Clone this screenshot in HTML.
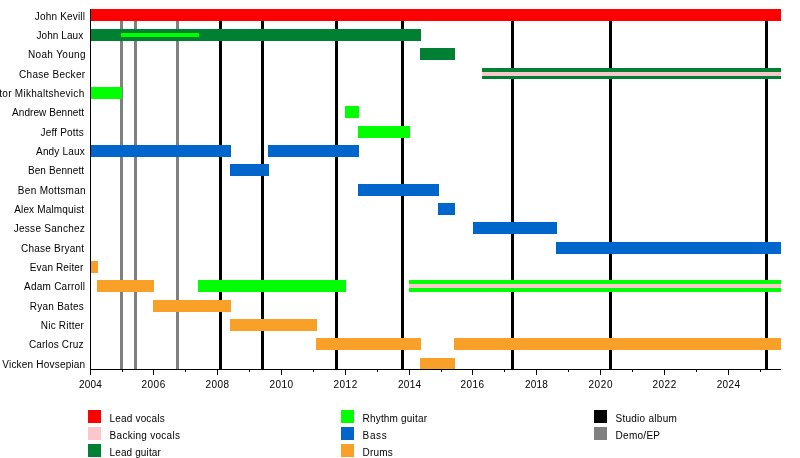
<!DOCTYPE html><html><head><meta charset="utf-8"><style>html,body{margin:0;padding:0;background:#fff;overflow:hidden;}#c{width:800px;height:458px;will-change:transform;}svg{display:block;}text{font-family:"Liberation Sans",sans-serif;font-size:10px;fill:#000;}</style></head><body><div id="c">
<svg width="800" height="458" viewBox="0 0 800 458">
<rect x="0" y="0" width="800" height="458" fill="#fff"/>
<g shape-rendering="crispEdges">
<rect x="120" y="9" width="3" height="360" fill="#808080"/>
<rect x="134" y="9" width="3" height="360" fill="#808080"/>
<rect x="176" y="9" width="3" height="360" fill="#808080"/>
<rect x="219" y="9" width="3" height="360" fill="#000000"/>
<rect x="261" y="9" width="3" height="360" fill="#000000"/>
<rect x="335" y="9" width="3" height="360" fill="#000000"/>
<rect x="401" y="9" width="3" height="360" fill="#000000"/>
<rect x="511" y="9" width="3" height="360" fill="#000000"/>
<rect x="609" y="9" width="3" height="360" fill="#000000"/>
<rect x="765" y="9" width="3" height="360" fill="#000000"/>
<rect x="90" y="9" width="691" height="12" fill="#ff0000"/>
<rect x="90" y="29" width="331" height="12" fill="#008033"/>
<rect x="121" y="33" width="78" height="4" fill="#00ff00"/>
<rect x="420" y="48" width="35" height="12" fill="#008033"/>
<rect x="482" y="68" width="299" height="11" fill="#008033"/>
<rect x="482" y="72" width="299" height="4" fill="#fcc6cd"/>
<rect x="90" y="87" width="32" height="12" fill="#00ff00"/>
<rect x="345" y="106" width="14" height="12" fill="#00ff00"/>
<rect x="358" y="126" width="52" height="12" fill="#00ff00"/>
<rect x="90" y="145" width="141" height="12" fill="#0066cc"/>
<rect x="268" y="145" width="91" height="12" fill="#0066cc"/>
<rect x="230" y="164" width="39" height="12" fill="#0066cc"/>
<rect x="358" y="184" width="81" height="12" fill="#0066cc"/>
<rect x="438" y="203" width="17" height="12" fill="#0066cc"/>
<rect x="473" y="222" width="84" height="12" fill="#0066cc"/>
<rect x="556" y="242" width="225" height="12" fill="#0066cc"/>
<rect x="90" y="261" width="8" height="12" fill="#f9a028"/>
<rect x="97" y="280" width="57" height="12" fill="#f9a028"/>
<rect x="198" y="280" width="148" height="12" fill="#00ff00"/>
<rect x="409" y="280" width="372" height="12" fill="#00ff00"/>
<rect x="409" y="284" width="372" height="4" fill="#fcc6cd"/>
<rect x="153" y="300" width="78" height="12" fill="#f9a028"/>
<rect x="230" y="319" width="87" height="12" fill="#f9a028"/>
<rect x="316" y="338" width="105" height="12" fill="#f9a028"/>
<rect x="454" y="338" width="327" height="12" fill="#f9a028"/>
<rect x="420" y="358" width="35" height="12" fill="#f9a028"/>
<rect x="90" y="9" width="1" height="361" fill="#000"/>
<rect x="90" y="369" width="691" height="1" fill="#000"/>
<rect x="90" y="369" width="1" height="6" fill="#000"/>
<rect x="122" y="369" width="1" height="3" fill="#000"/>
<rect x="153" y="369" width="1" height="6" fill="#000"/>
<rect x="185" y="369" width="1" height="3" fill="#000"/>
<rect x="217" y="369" width="1" height="6" fill="#000"/>
<rect x="249" y="369" width="1" height="3" fill="#000"/>
<rect x="281" y="369" width="1" height="6" fill="#000"/>
<rect x="313" y="369" width="1" height="3" fill="#000"/>
<rect x="345" y="369" width="1" height="6" fill="#000"/>
<rect x="377" y="369" width="1" height="3" fill="#000"/>
<rect x="409" y="369" width="1" height="6" fill="#000"/>
<rect x="441" y="369" width="1" height="3" fill="#000"/>
<rect x="472" y="369" width="1" height="6" fill="#000"/>
<rect x="504" y="369" width="1" height="3" fill="#000"/>
<rect x="536" y="369" width="1" height="6" fill="#000"/>
<rect x="568" y="369" width="1" height="3" fill="#000"/>
<rect x="600" y="369" width="1" height="6" fill="#000"/>
<rect x="632" y="369" width="1" height="3" fill="#000"/>
<rect x="664" y="369" width="1" height="6" fill="#000"/>
<rect x="696" y="369" width="1" height="3" fill="#000"/>
<rect x="728" y="369" width="1" height="6" fill="#000"/>
<rect x="760" y="369" width="1" height="3" fill="#000"/>
<rect x="88" y="410" width="13" height="13" fill="#ff0000"/>
<rect x="88" y="427" width="13" height="13" fill="#fcc6cd"/>
<rect x="88" y="444" width="13" height="13" fill="#008033"/>
<rect x="341" y="410" width="13" height="13" fill="#00ff00"/>
<rect x="341" y="427" width="13" height="13" fill="#0066cc"/>
<rect x="341" y="444" width="13" height="13" fill="#f9a028"/>
<rect x="594" y="410" width="13" height="13" fill="#000000"/>
<rect x="594" y="427" width="13" height="13" fill="#808080"/>
</g>
<text x="78.93" y="388" textLength="22.81" lengthAdjust="spacing">2004</text>
<text x="141.45" y="388" textLength="23.75" lengthAdjust="spacing">2006</text>
<text x="205.45" y="388" textLength="23.73" lengthAdjust="spacing">2008</text>
<text x="269.45" y="388" textLength="23.49" lengthAdjust="spacing">2010</text>
<text x="333.45" y="388" textLength="23.79" lengthAdjust="spacing">2012</text>
<text x="398.02" y="388" textLength="22.98" lengthAdjust="spacing">2014</text>
<text x="460.45" y="388" textLength="23.50" lengthAdjust="spacing">2016</text>
<text x="524.93" y="388" textLength="22.99" lengthAdjust="spacing">2018</text>
<text x="588.45" y="388" textLength="23.99" lengthAdjust="spacing">2020</text>
<text x="652.45" y="388" textLength="23.79" lengthAdjust="spacing">2022</text>
<text x="716.66" y="388" textLength="23.42" lengthAdjust="spacing">2024</text>
<text x="34.71" y="20" textLength="50.31" lengthAdjust="spacing">John Kevill</text>
<text x="36.51" y="39" textLength="46.65" lengthAdjust="spacing">John Laux</text>
<text x="27.94" y="58" textLength="57.65" lengthAdjust="spacing">Noah Young</text>
<text x="19.05" y="78" textLength="66.02" lengthAdjust="spacing">Chase Becker</text>
<text x="-15.39" y="97" textLength="99.60" lengthAdjust="spacing">Viktor Mikhaltshevich</text>
<text x="12.04" y="116" textLength="72.06" lengthAdjust="spacing">Andrew Bennett</text>
<text x="40.54" y="136" textLength="43.20" lengthAdjust="spacing">Jeff Potts</text>
<text x="36.03" y="155" textLength="48.66" lengthAdjust="spacing">Andy Laux</text>
<text x="27.91" y="174" textLength="56.19" lengthAdjust="spacing">Ben Bennett</text>
<text x="17.86" y="194" textLength="67.78" lengthAdjust="spacing">Ben Mottsman</text>
<text x="14.17" y="213" textLength="69.92" lengthAdjust="spacing">Alex Malmquist</text>
<text x="13.75" y="232" textLength="71.06" lengthAdjust="spacing">Jesse Sanchez</text>
<text x="20.98" y="252" textLength="63.12" lengthAdjust="spacing">Chase Bryant</text>
<text x="29.81" y="271" textLength="53.52" lengthAdjust="spacing">Evan Reiter</text>
<text x="24.11" y="290" textLength="60.91" lengthAdjust="spacing">Adam Carroll</text>
<text x="29.70" y="310" textLength="54.04" lengthAdjust="spacing">Ryan Bates</text>
<text x="40.82" y="329" textLength="42.92" lengthAdjust="spacing">Nic Ritter</text>
<text x="28.97" y="348" textLength="54.43" lengthAdjust="spacing">Carlos Cruz</text>
<text x="2.28" y="368" textLength="82.88" lengthAdjust="spacing">Vicken Hovsepian</text>
<text x="109.59" y="422" textLength="55.07" lengthAdjust="spacing">Lead vocals</text>
<text x="109.59" y="439" textLength="70.33" lengthAdjust="spacing">Backing vocals</text>
<text x="109.59" y="456" textLength="51.23" lengthAdjust="spacing">Lead guitar</text>
<text x="362.59" y="422" textLength="64.40" lengthAdjust="spacing">Rhythm guitar</text>
<text x="362.59" y="439" textLength="24.09" lengthAdjust="spacing">Bass</text>
<text x="362.59" y="456" textLength="30.13" lengthAdjust="spacing">Drums</text>
<text x="615.47" y="422" textLength="61.34" lengthAdjust="spacing">Studio album</text>
<text x="615.59" y="439" textLength="44.39" lengthAdjust="spacing">Demo/EP</text>
</svg></div></body></html>
